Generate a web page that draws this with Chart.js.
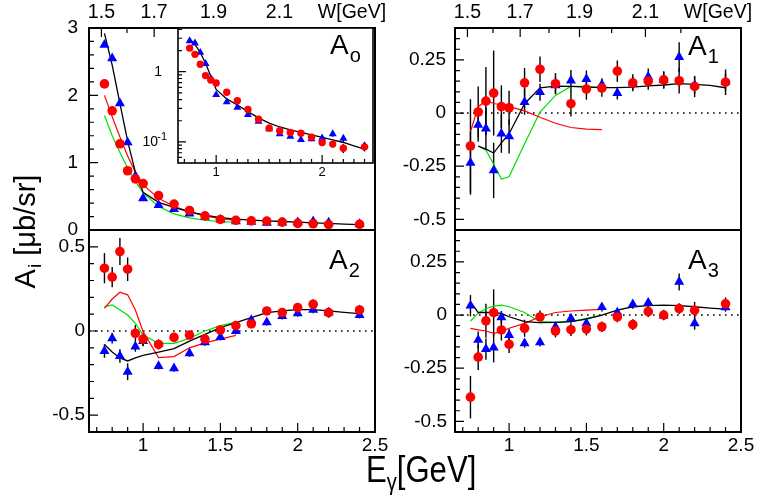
<!DOCTYPE html>
<html>
<head>
<meta charset="utf-8">
<script src="https://cdn.jsdelivr.net/npm/chart.js@4.4.0/dist/chart.umd.min.js"></script>
<style>
  body { margin: 0; background: #fff; }
  #wrap { position: relative; width: 760px; height: 501px; }
  canvas { position: absolute; left: 0; top: 0; }
</style>
</head>
<body>
<div id="wrap">
  <canvas id="a0" width="760" height="501"></canvas>
  <canvas id="inset" width="760" height="501"></canvas>
  <canvas id="a1" width="760" height="501"></canvas>
  <canvas id="a2" width="760" height="501"></canvas>
  <canvas id="a3" width="760" height="501"></canvas>
</div>
<script>
// photon energies of the data points [GeV]
var energy = [0.75, 0.8, 0.85, 0.9, 0.95, 1.0, 1.1, 1.2, 1.3, 1.4, 1.5, 1.6, 1.7, 1.8, 1.9, 2.0, 2.1, 2.2, 2.4];
// energies of the fit (black) and of the two model curves (red, green)
var fitE = [0.75, 0.8, 0.85, 0.9, 0.95, 1.0, 1.1, 1.2, 1.3, 1.4, 1.5, 1.6, 1.7, 1.8, 1.9, 2.0, 2.1, 2.2, 2.3, 2.4];
var modelE = [0.75, 0.8, 0.85, 0.9, 0.95, 1.0, 1.1, 1.2, 1.3, 1.4, 1.5, 1.6];

// A0
var a0Red = [2.17, 1.77, 1.28, 0.88, 0.76, 0.69, 0.51, 0.385, 0.29, 0.21, 0.157, 0.144, 0.136, 0.133, 0.117, 0.098, 0.093, 0.081, 0.085];
var a0RedErr = [0.03, 0.03, 0.03, 0.02, 0.02, 0.02, 0.01, 0.01, 0.01, 0.008, 0.006, 0.006, 0.006, 0.006, 0.006, 0.008, 0.01, 0.012, 0.012];
var a0Blue = [2.75, 2.55, 1.88, 1.3, 0.8, 0.47, 0.37, 0.31, 0.245, 0.195, 0.153, 0.13, 0.12, 0.107, 0.11, 0.113, 0.13, 0.112, 0.088];
var a0BlueErr = [0.03, 0.03, 0.03, 0.02, 0.02, 0.01, 0.01, 0.01, 0.008, 0.006, 0.006, 0.006, 0.006, 0.006, 0.008, 0.01, 0.012, 0.012, 0.01];
var a0Fit = [2.92, 2.45, 1.88, 1.32, 0.86, 0.56, 0.41, 0.335, 0.27, 0.22, 0.185, 0.163, 0.148, 0.137, 0.126, 0.116, 0.107, 0.098, 0.088, 0.079];
var a0RedModel = [2.0, 1.68, 1.38, 1.1, 0.86, 0.67, 0.47, 0.35, 0.27, 0.21, 0.17, 0.145];
var a0GreenModel = [1.7, 1.4, 1.15, 0.92, 0.72, 0.55, 0.35, 0.24, 0.18, 0.145, 0.125, 0.115];

// A1
var a1Red = [-0.155, 0.005, 0.056, 0.094, 0.03, 0.025, 0.142, 0.206, 0.138, 0.044, 0.113, 0.117, 0.197, 0.142, 0.15, 0.156, 0.152, 0.125, 0.145];
var a1RedErr = [0.22, 0.12, 0.16, 0.2, 0.1, 0.08, 0.07, 0.06, 0.05, 0.06, 0.05, 0.04, 0.05, 0.04, 0.04, 0.04, 0.06, 0.05, 0.06];
var a1Blue = [-0.234, -0.055, -0.073, -0.27, -0.097, -0.11, 0.052, 0.098, 0.13, 0.153, 0.16, 0.134, 0.094, 0.14, 0.17, 0.155, 0.263, 0.13, 0.145];
var a1BlueErr = [0.15, 0.08, 0.1, 0.13, 0.09, 0.08, 0.06, 0.04, 0.04, 0.05, 0.04, 0.03, 0.03, 0.03, 0.04, 0.04, 0.07, 0.04, 0.04];
var a1Fit = [null, -0.155, -0.17, -0.188, -0.14, -0.097, 0.044, 0.119, 0.127, 0.125, 0.122, 0.12, 0.12, 0.122, 0.128, 0.132, 0.138, 0.135, 0.13, 0.119];
var a1RedModel = [-0.088, 0.03, 0.058, 0.045, 0.038, 0.03, 0.01, -0.02, -0.048, -0.068, -0.076, -0.078];
var a1GreenModel = [null, -0.155, -0.175, -0.24, -0.31, -0.3, -0.144, 0.005, 0.083, 0.125, 0.125, 0.12];

// A2
var a2Red = [0.373, 0.32, 0.472, 0.367, -0.014, -0.048, -0.08, -0.038, -0.024, -0.048, 0.006, 0.032, 0.042, 0.119, 0.11, 0.139, 0.159, 0.109, 0.125];
var a2RedErr = [0.09, 0.06, 0.08, 0.07, 0.05, 0.04, 0.03, 0.02, 0.02, 0.03, 0.02, 0.02, 0.02, 0.02, 0.02, 0.025, 0.03, 0.03, 0.03];
var a2Blue = [-0.119, -0.044, -0.149, -0.242, -0.093, -0.06, -0.208, -0.222, -0.133, -0.067, -0.036, 0.0, 0.065, 0.052, 0.089, 0.105, 0.125, 0.11, 0.095];
var a2BlueErr = [0.04, 0.03, 0.04, 0.05, 0.03, 0.03, 0.02, 0.02, 0.02, 0.02, 0.02, 0.02, 0.02, 0.02, 0.02, 0.02, 0.02, 0.02, 0.02];
var a2Fit = [-0.08, -0.125, -0.16, -0.178, -0.16, -0.145, -0.125, -0.105, -0.06, -0.02, 0.02, 0.05, 0.079, 0.109, 0.12, 0.127, 0.127, 0.119, 0.111, 0.103];
var a2RedModel = [0.135, 0.19, 0.23, 0.215, 0.125, -0.004, -0.158, -0.152, -0.1, -0.071, -0.048, -0.026];
var a2GreenModel = [0.143, 0.155, 0.125, 0.095, 0.046, -0.024, -0.073, -0.073, -0.044, 0.0, 0.032, 0.052];

// A3
var a3Red = [-0.386, -0.198, -0.027, 0.011, -0.07, -0.138, -0.062, -0.009, -0.075, -0.069, -0.066, -0.055, -0.009, -0.045, 0.016, 0.0, 0.03, 0.022, 0.053];
var a3RedErr = [0.1, 0.06, 0.08, 0.11, 0.05, 0.04, 0.04, 0.03, 0.03, 0.03, 0.03, 0.025, 0.025, 0.025, 0.025, 0.025, 0.025, 0.04, 0.03];
var a3Blue = [0.044, -0.117, -0.16, -0.153, -0.011, -0.094, -0.133, -0.128, -0.055, -0.016, -0.039, 0.037, 0.012, 0.05, 0.058, -0.003, 0.156, -0.039, 0.036];
var a3BlueErr = [0.05, 0.04, 0.05, 0.07, 0.03, 0.03, 0.02, 0.02, 0.02, 0.02, 0.02, 0.02, 0.02, 0.02, 0.02, 0.02, 0.04, 0.03, 0.02];
var a3Fit = [0.062, 0.012, 0.012, 0.012, 0.008, -0.008, -0.031, -0.036, -0.034, -0.031, -0.019, 0.0, 0.023, 0.039, 0.044, 0.047, 0.044, 0.039, 0.033, 0.028];
var a3RedModel = [-0.063, -0.07, -0.075, -0.086, -0.078, -0.062, -0.039, -0.008, 0.012, 0.019, 0.023, 0.027];
var a3GreenModel = [-0.028, 0.008, 0.031, 0.042, 0.047, 0.039, 0.012, -0.031, -0.034, -0.031, -0.016, 0.0];

// axis ticks
var eTicks = [1, 1.5, 2, 2.5];
var eTickLabels = ["1", "1.5", "2", "2.5"];
var wTicks = [1.5, 1.7, 1.9, 2.1, 2.3];
var wTickLabels = ["1.5", "1.7", "1.9", "2.1", "W[GeV]"];
var wMinor = [1.6, 1.8, 2.0, 2.2];
var a0Ticks = [0, 1, 2, 3];
var a0TickLabels = ["0", "1", "2", "3"];
var a13Ticks = [-0.5, -0.25, 0, 0.25];
var a13TickLabels = ["-0.5", "-0.25", "0", "0.25"];
var a2Ticks = [-0.5, 0, 0.5];
var a2TickLabels = ["-0.5", "0", "0.5"];
var insetETicks = [1, 2];
var insetETickLabels = ["1", "2"];

var FONT = "'Liberation Sans', Arial, Helvetica, sans-serif";
var mp = 0.938;
function eFromW(w) {
  return (w * w - mp * mp) / (2 * mp);
}

function steps(min, max, step) {
  var out = [];
  for (var v = Math.ceil(min / step - 1e-6) * step; v <= max + 1e-9; v += step) {
    out.push(Math.round(v * 1000) / 1000);
  }
  return out;
}

function pts(xs, ys) {
  var out = [];
  xs.forEach((x, i) => {
    if (ys[i] !== null && ys[i] !== undefined) out.push({ x: x, y: ys[i] });
  });
  return out;
}

function markers(kind, ys, errs, small) {
  var red = kind === "red";
  return {
    data: pts(energy, ys),
    errors: errs,
    showLine: false,
    pointStyle: red ? "circle" : "triangle",
    pointRadius: red ? (small ? 3.7 : 4.8) : (small ? 4.6 : 5.8),
    backgroundColor: red ? "#ff0000" : "#0000ff",
    borderWidth: 0,
    order: red ? 0 : 1,
  };
}

function curve(xs, ys, color) {
  return {
    data: pts(xs, ys),
    showLine: true,
    pointRadius: 0,
    borderColor: color,
    borderWidth: color === "#000000" ? 1.3 : 1.2,
    tension: 0,
    order: 2,
  };
}

// frame, inward ticks, error bars, zero line and panel labels
var panelPlugin = {
  id: "panel",
  beforeDraw(chart, args, o) {
    if (!o.white) return;
    var a = chart.chartArea;
    chart.ctx.save();
    chart.ctx.fillStyle = "#ffffff";
    chart.ctx.fillRect(a.left, a.top, a.right - a.left, a.bottom - a.top);
    chart.ctx.restore();
  },
  beforeDatasetsDraw(chart, args, o) {
    var ctx = chart.ctx, a = chart.chartArea;
    var xs = chart.scales.x, ys = chart.scales.y;
    ctx.save();
    ctx.beginPath();
    ctx.rect(a.left, a.top, a.right - a.left, a.bottom - a.top);
    ctx.clip();
    if (o.zero) {
      var y0 = ys.getPixelForValue(0);
      ctx.strokeStyle = "#000";
      ctx.lineWidth = 1.6;
      ctx.setLineDash([1.6, 4.4]);
      ctx.beginPath();
      ctx.moveTo(a.left, y0);
      ctx.lineTo(a.right, y0);
      ctx.stroke();
      ctx.setLineDash([]);
    }
    ctx.strokeStyle = "#000";
    ctx.lineWidth = 1.4;
    chart.data.datasets.forEach((ds) => {
      if (!ds.errors) return;
      ds.data.forEach((p, j) => {
        var e = ds.errors[j];
        if (!e) return;
        var px = xs.getPixelForValue(p.x);
        ctx.beginPath();
        ctx.moveTo(px, ys.getPixelForValue(p.y - e));
        ctx.lineTo(px, ys.getPixelForValue(p.y + e));
        ctx.stroke();
      });
    });
    ctx.restore();
  },
  afterDraw(chart, args, o) {
    var ctx = chart.ctx, a = chart.chartArea;
    var xs = chart.scales.x, ys = chart.scales.y;
    ctx.save();
    ctx.strokeStyle = "#000";
    ctx.lineWidth = o.frameWidth || 2;
    ctx.strokeRect(a.left, a.top, a.right - a.left, a.bottom - a.top);
    ctx.lineWidth = 1.2;
    ctx.beginPath();
    // left axis
    (o.yMajor || []).forEach((v) => {
      var y = ys.getPixelForValue(v);
      ctx.moveTo(a.left, y);
      ctx.lineTo(a.left + o.majorLen, y);
    });
    (o.yMinor || []).forEach((v) => {
      var y = ys.getPixelForValue(v);
      ctx.moveTo(a.left, y);
      ctx.lineTo(a.left + o.minorLen, y);
    });
    // bottom axis
    (o.xMajor || []).forEach((v) => {
      var x = xs.getPixelForValue(v);
      ctx.moveTo(x, a.bottom);
      ctx.lineTo(x, a.bottom - o.majorLen);
    });
    (o.xMinor || []).forEach((v) => {
      var x = xs.getPixelForValue(v);
      ctx.moveTo(x, a.bottom);
      ctx.lineTo(x, a.bottom - o.minorLen);
    });
    // top W axis
    if (o.wAxis) {
      wTicks.slice(0, 4).forEach((w) => {
        var x = xs.getPixelForValue(eFromW(w));
        ctx.moveTo(x, a.top);
        ctx.lineTo(x, a.top + o.majorLen);
      });
      wMinor.forEach((w) => {
        var x = xs.getPixelForValue(eFromW(w));
        ctx.moveTo(x, a.top);
        ctx.lineTo(x, a.top + o.minorLen);
      });
    }
    ctx.stroke();

    ctx.fillStyle = "#000";
    if (o.label) {
      ctx.textBaseline = "alphabetic";
      ctx.textAlign = "left";
      ctx.font = "28px " + FONT;
      ctx.fillText("A", o.label.x, o.label.y);
      var w = ctx.measureText("A").width;
      ctx.font = "20px " + FONT;
      ctx.fillText(o.label.sub, o.label.x + w + 1, o.label.y + 8);
    }
    if (o.logLabels) {
      ctx.textBaseline = "middle";
      ctx.textAlign = "right";
      ctx.font = "14px " + FONT;
      ctx.fillText("1", a.left - 16, ys.getPixelForValue(1));
      var y1 = ys.getPixelForValue(0.1);
      ctx.fillText("10", a.left - 20, y1);
      ctx.font = "11px " + FONT;
      ctx.fillText("-1", a.left - 11, y1 - 5);
    }
    if (o.titles) {
      // y title
      ctx.save();
      ctx.translate(35, 232);
      ctx.rotate(-Math.PI / 2);
      ctx.textBaseline = "alphabetic";
      ctx.textAlign = "left";
      ctx.font = "29px " + FONT;
      var wA = ctx.measureText("A").width;
      var rest = " [\u03bcb/sr]";
      var wR = ctx.measureText(rest).width;
      ctx.font = "19px " + FONT;
      var wi = ctx.measureText("i").width;
      var x0 = -(wA + wi + wR) / 2;
      ctx.font = "29px " + FONT;
      ctx.fillText("A", x0, 0);
      ctx.font = "19px " + FONT;
      ctx.fillText("i", x0 + wA + 1, 6);
      ctx.font = "29px " + FONT;
      ctx.fillText(rest, x0 + wA + wi + 1, 0);
      ctx.restore();
      // x title
      ctx.save();
      ctx.translate(366, 482);
      ctx.scale(0.84, 1);
      ctx.textBaseline = "alphabetic";
      ctx.textAlign = "left";
      ctx.font = "37px " + FONT;
      ctx.fillText("E", 0, 0);
      var wE = ctx.measureText("E").width;
      ctx.font = "24px " + FONT;
      ctx.fillText("\u03b3", wE, 8);
      var wg = ctx.measureText("\u03b3").width;
      ctx.font = "37px " + FONT;
      ctx.fillText("[GeV]", wE + wg, 0);
      ctx.restore();
    }
    ctx.restore();
  },
};
Chart.register(panelPlugin);

// fixed sizes of the axis boxes (tick labels are clipped to them)
var LEFT_W = 60, BOTTOM_H = 30, TOP_H = 28;

function panel(id, area, cfg) {
  var scales = {
    x: {
      type: "linear",
      min: cfg.xMin || 0.65,
      max: cfg.xMax || 2.5,
      afterFit: (s) => { s.height = BOTTOM_H; },
      grid: { display: false, drawTicks: false },
      border: { display: false },
      ticks: {
        display: !!cfg.xLabels,
        autoSkip: false,
        maxRotation: 0,
        color: "#000",
        padding: cfg.xPad || 2,
        font: { family: FONT, size: cfg.xFont || 19 },
        callback: (v, i) => (cfg.xLabels ? cfg.xLabels[i] : ""),
      },
      afterBuildTicks: (s) => {
        s.ticks = cfg.xTickVals.map((v) => ({ value: v }));
      },
    },
    y: {
      type: cfg.log ? "logarithmic" : "linear",
      min: cfg.yMin,
      max: cfg.yMax,
      afterFit: (s) => { s.width = LEFT_W; },
      grid: { display: false, drawTicks: false },
      border: { display: false },
      ticks: {
        display: !!cfg.yLabels,
        autoSkip: false,
        color: "#000",
        padding: cfg.yPad || 6,
        font: { family: FONT, size: 19 },
        callback: (v, i) => (cfg.yLabels ? cfg.yLabels[i] : ""),
      },
      afterBuildTicks: (s) => {
        s.ticks = cfg.yTickVals.map((v) => ({ value: v }));
      },
    },
  };
  var top = area.t;
  if (cfg.wAxis) {
    top = area.t - TOP_H;
    scales.w = {
      type: "linear",
      position: "top",
      min: 0.65,
      max: 2.5,
      afterFit: (s) => { s.height = TOP_H; },
      grid: { display: false, drawTicks: false },
      border: { display: false },
      ticks: {
        autoSkip: false,
        maxRotation: 0,
        color: "#000",
        padding: 4,
        font: { family: FONT, size: 19.5 },
        callback: (v, i) => wTickLabels[i],
      },
      afterBuildTicks: (s) => {
        s.ticks = wTicks.map((w) => ({ value: eFromW(w) }));
      },
    };
  }
  return new Chart(document.getElementById(id), {
    type: "scatter",
    data: { datasets: cfg.datasets },
    options: {
      responsive: false,
      animation: false,
      devicePixelRatio: 1,
      events: [],
      layout: {
        padding: {
          left: area.l - LEFT_W,
          top: top,
          right: 760 - area.r,
          bottom: 501 - area.b - BOTTOM_H,
        },
      },
      scales: scales,
      plugins: {
        legend: { display: false },
        tooltip: { enabled: false },
        panel: cfg.panel,
      },
    },
  });
}

var eMinor = steps(0.7, 2.5, 0.1);

panel("a0", { l: 89, t: 28, r: 375, b: 230 }, {
  yMin: 0, yMax: 3, yTickVals: a0Ticks, yLabels: a0TickLabels, yPad: 11,
  xTickVals: eTicks, wAxis: true,
  datasets: [
    markers("red", a0Red, null),
    markers("blue", a0Blue, null),
    curve(fitE, a0Fit, "#000000"),
    curve(modelE, a0RedModel, "#ff0000"),
    curve(modelE, a0GreenModel, "#00dd00"),
  ],
  panel: {
    majorLen: 9, minorLen: 5, yMajor: a0Ticks, yMinor: steps(0, 3, 0.2),
    wAxis: true, titles: true,
  },
});

var logMinor = [];
[0.01, 0.1, 1].forEach((d) => {
  for (var k = 2; k <= 9; k++) {
    var v = k * d;
    if (v > 0.05 && v < 4.2) logMinor.push(v);
  }
});

panel("inset", { l: 178, t: 28, r: 373, b: 163 }, {
  log: true, yMin: 0.05, yMax: 4.2, yTickVals: [0.1, 1], yLabels: null,
  xMin: 0.64, xMax: 2.48, xTickVals: insetETicks, xLabels: insetETickLabels, xFont: 13, xPad: 2,
  datasets: [
    markers("red", a0Red, a0RedErr, true),
    markers("blue", a0Blue, a0BlueErr, true),
    curve(fitE, a0Fit, "#000000"),
  ],
  panel: {
    white: true, frameWidth: 1.6, majorLen: 8, minorLen: 4,
    yMajor: [0.1, 1], yMinor: logMinor, xMajor: insetETicks, xMinor: steps(0.7, 2.4, 0.1),
    logLabels: true, label: { x: 330, y: 54, sub: "o" },
  },
});

panel("a1", { l: 455, t: 28, r: 741, b: 230 }, {
  yMin: -0.55, yMax: 0.4, yTickVals: a13Ticks, yLabels: a13TickLabels, yPad: 9,
  xTickVals: eTicks, wAxis: true,
  datasets: [
    markers("red", a1Red, a1RedErr),
    markers("blue", a1Blue, a1BlueErr),
    curve(fitE, a1Fit, "#000000"),
    curve(modelE, a1RedModel, "#ff0000"),
    curve(modelE, a1GreenModel, "#00dd00"),
  ],
  panel: {
    majorLen: 9, minorLen: 5, yMajor: a13Ticks, yMinor: steps(-0.55, 0.4, 0.05),
    wAxis: true, zero: true, label: { x: 688, y: 55, sub: "1" },
  },
});

panel("a2", { l: 89, t: 230, r: 375, b: 432 }, {
  yMin: -0.6, yMax: 0.6, yTickVals: a2Ticks, yLabels: a2TickLabels, yPad: 4,
  xTickVals: eTicks, xLabels: eTickLabels,
  datasets: [
    markers("red", a2Red, a2RedErr),
    markers("blue", a2Blue, a2BlueErr),
    curve(fitE, a2Fit, "#000000"),
    curve(modelE, a2RedModel, "#ff0000"),
    curve(modelE, a2GreenModel, "#00dd00"),
  ],
  panel: {
    majorLen: 9, minorLen: 5, yMajor: a2Ticks, yMinor: steps(-0.6, 0.6, 0.1),
    xMajor: eTicks, xMinor: eMinor, zero: true, label: { x: 329, y: 269, sub: "2" },
  },
});

panel("a3", { l: 455, t: 230, r: 741, b: 432 }, {
  yMin: -0.55, yMax: 0.4, yTickVals: a13Ticks, yLabels: a13TickLabels, yPad: 8,
  xTickVals: eTicks, xLabels: eTickLabels,
  datasets: [
    markers("red", a3Red, a3RedErr),
    markers("blue", a3Blue, a3BlueErr),
    curve(fitE, a3Fit, "#000000"),
    curve(modelE, a3RedModel, "#ff0000"),
    curve(modelE, a3GreenModel, "#00dd00"),
  ],
  panel: {
    majorLen: 9, minorLen: 5, yMajor: a13Ticks, yMinor: steps(-0.55, 0.4, 0.05),
    xMajor: eTicks, xMinor: eMinor, zero: true, label: { x: 688, y: 269, sub: "3" },
  },
});
</script>
</body>
</html>
